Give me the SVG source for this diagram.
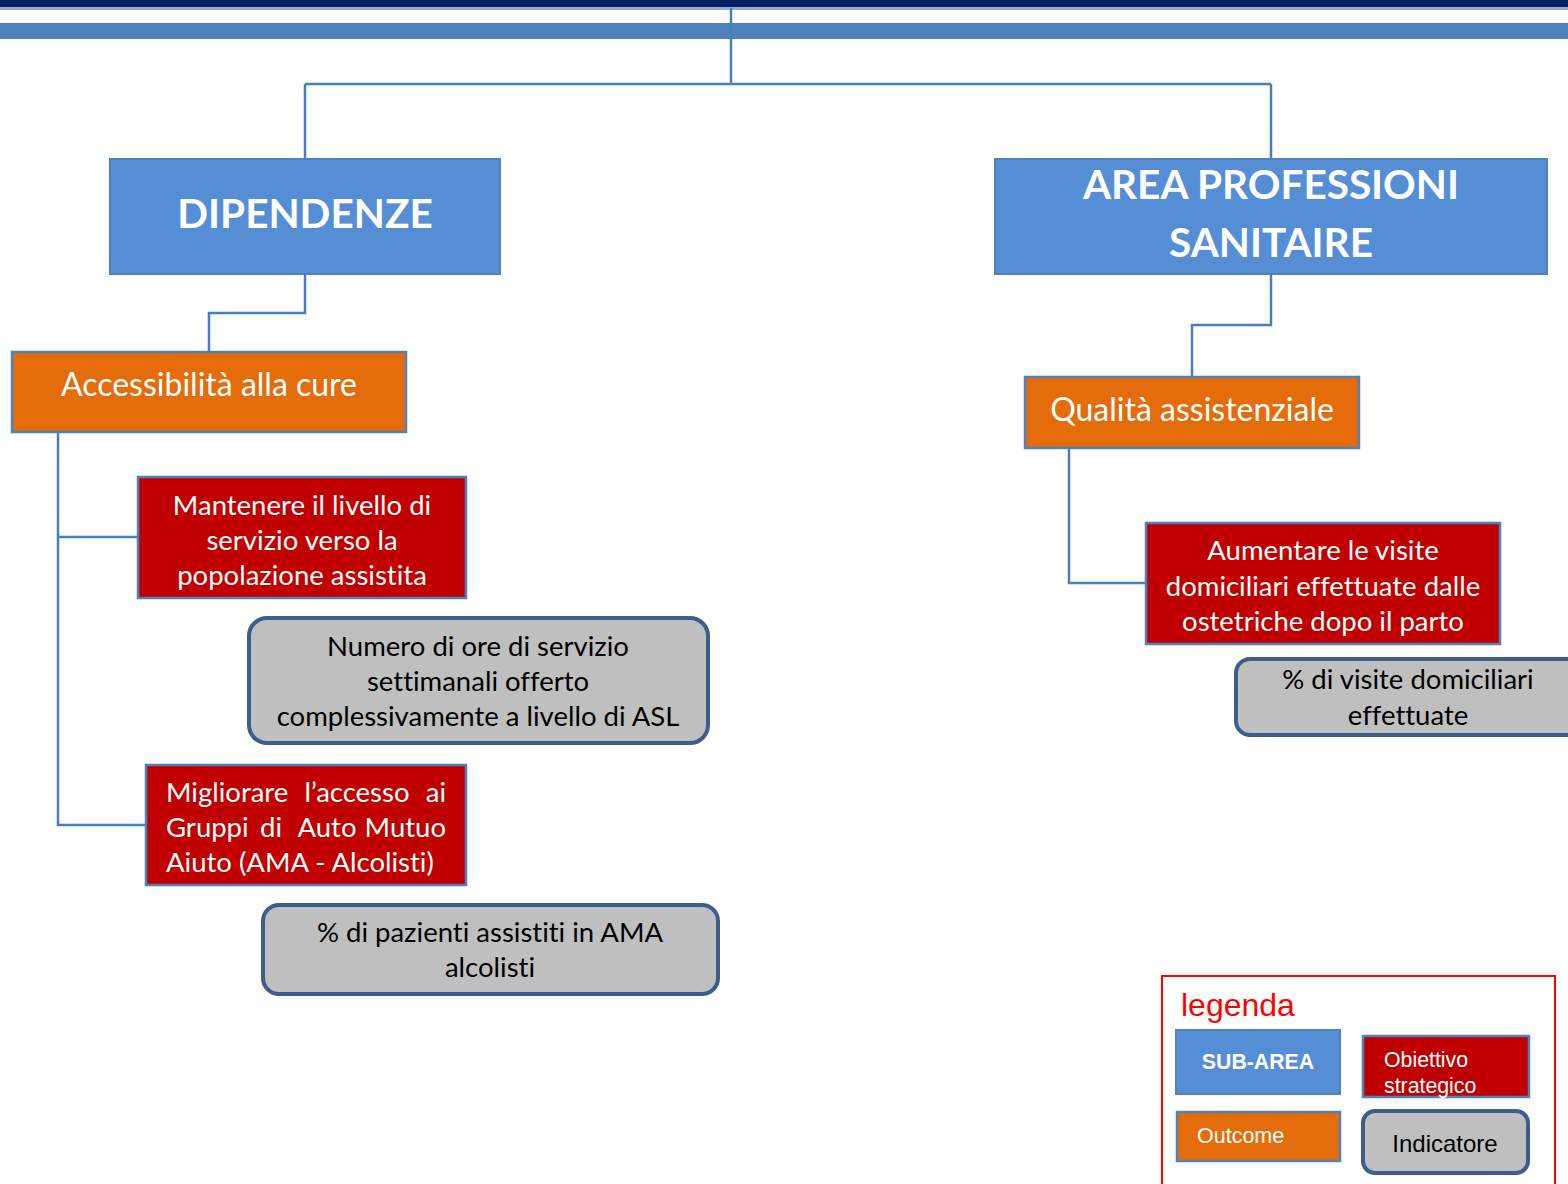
<svg xmlns="http://www.w3.org/2000/svg" width="1568" height="1184" viewBox="0 0 1568 1184">
  <style>
    .area { fill: #558ED5; stroke: #4F81BD; stroke-width: 2; }
    .out { fill: #E46C0A; stroke: #4F81BD; stroke-width: 2.5; }
    .obj { fill: #C00000; stroke: #4F81BD; stroke-width: 2.5; }
    .ind { fill: #BFBFBF; stroke: #3B5E8F; stroke-width: 4; }
    .conn { fill: none; stroke: #4A7EBB; stroke-width: 2.5; }
    .t { font-family: Lato, "Open Sans", sans-serif; font-variant-ligatures: none; }
    .head { font-family: Lato, "Open Sans", sans-serif; font-weight: bold; font-size: 40.5px; fill: #FFFFFF; text-anchor: middle; }
    .w { fill: #FFFFFF; }
    .k { fill: #000000; }
    .mid { text-anchor: middle; }
    .end { text-anchor: end; }
    .body { font-size: 27.5px; }
    .big { font-size: 32px; }
    .leg { font-family: "Liberation Sans", Arial, sans-serif; }
  </style>

  <!-- page header bands -->
  <rect x="0" y="0" width="1568" height="7" fill="#002060"/>
  <rect x="0" y="7" width="1568" height="3" fill="#8EA9DB"/>
  <rect x="0" y="23" width="1568" height="16" fill="#4F81BD"/>

  <!-- connectors -->
  <g id="connectors" class="conn">
    <path d="M731 8 V84 M305 84 H1271 M305 84 V159 M1271 84 V159"/>
    <path d="M305 274 V313 H209 V352"/>
    <path d="M58 432 V825 H146 M58 537 H138"/>
    <path d="M1271 274 V325 H1192 V377"/>
    <path d="M1069 448 V583 H1146"/>
  </g>

  <g id="dipendenze">
    <rect class="area" x="110" y="159" width="390" height="115"/>
    <text class="head" x="305" y="228">DIPENDENZE</text>
  </g>

  <g id="area-professioni">
    <rect class="area" x="995" y="159" width="552" height="115"/>
    <text class="head" x="1271" y="199">AREA PROFESSIONI</text>
    <text class="head" x="1271" y="257">SANITAIRE</text>
  </g>

  <g id="accessibilita">
    <rect class="out" x="12" y="352" width="394" height="80"/>
    <text class="t w mid big" x="209" y="396">Accessibilità alla cure</text>
  </g>

  <g id="qualita">
    <rect class="out" x="1025" y="377" width="334" height="71"/>
    <text class="t w mid big" x="1192" y="421">Qualità assistenziale</text>
  </g>

  <g id="mantenere">
    <rect class="obj" x="138" y="477" width="328" height="121"/>
    <text class="t w mid body" x="302" y="515">Mantenere il livello di</text>
    <text class="t w mid body" x="302" y="550">servizio verso la</text>
    <text class="t w mid body" x="302" y="585">popolazione assistita</text>
  </g>

  <g id="numero-ore">
    <rect class="ind" x="249" y="618" width="459" height="125" rx="18"/>
    <text class="t k mid body" x="478" y="656">Numero di ore di servizio</text>
    <text class="t k mid body" x="478" y="691">settimanali offerto</text>
    <text class="t k mid body" x="478" y="726">complessivamente a livello di ASL</text>
  </g>

  <!-- justified paragraph: words placed on a shared baseline -->
  <g id="migliorare">
    <rect class="obj" x="146" y="765" width="320" height="120"/>
    <text class="t w body" x="166" y="802">Migliorare</text>
    <text class="t w body mid" x="357" y="802">l’accesso</text>
    <text class="t w body end" x="446" y="802">ai</text>
    <text class="t w body" x="166" y="837">Gruppi</text>
    <text class="t w body mid" x="271" y="837">di</text>
    <text class="t w body mid" x="327" y="837">Auto</text>
    <text class="t w body end" x="446" y="837">Mutuo</text>
    <text class="t w body" x="166" y="872">Aiuto (AMA - Alcolisti)</text>
  </g>

  <g id="pazienti-ama">
    <rect class="ind" x="263" y="905" width="455" height="89" rx="16"/>
    <text class="t k mid body" x="490" y="942">% di pazienti assistiti in AMA</text>
    <text class="t k mid body" x="490" y="977">alcolisti</text>
  </g>

  <g id="aumentare">
    <rect class="obj" x="1146" y="523" width="354" height="121"/>
    <text class="t w mid body" x="1323" y="560">Aumentare le visite</text>
    <text class="t w mid body" x="1323" y="596">domiciliari effettuate dalle</text>
    <text class="t w mid body" x="1323" y="631">ostetriche dopo il parto</text>
  </g>

  <g id="visite-domiciliari">
    <rect class="ind" x="1236" y="659" width="345" height="76" rx="14"/>
    <text class="t k mid body" x="1408" y="689">% di visite domiciliari</text>
    <text class="t k mid body" x="1408" y="725">effettuate</text>
  </g>

  <g id="legenda">
    <rect x="1162" y="976" width="393" height="214" fill="none" stroke="#FF0000" stroke-width="2"/>
    <text class="leg" x="1181" y="1016" font-size="32" fill="#FF0000">legenda</text>
    <rect class="area" x="1176" y="1030" width="164" height="64"/>
    <text class="leg w mid" x="1258" y="1069" font-size="21.3" font-weight="bold">SUB-AREA</text>
    <rect class="obj" x="1363" y="1036" width="166" height="61"/>
    <text class="leg w" x="1384" y="1067" font-size="21.3">Obiettivo</text>
    <text class="leg w" x="1384" y="1093" font-size="21.3">strategico</text>
    <rect class="out" x="1177" y="1112" width="163" height="49"/>
    <text class="leg w" x="1197" y="1143" font-size="21.5">Outcome</text>
    <rect class="ind" x="1363" y="1111" width="165" height="62" rx="12"/>
    <text class="leg k mid" x="1445" y="1152" font-size="24">Indicatore</text>
  </g>
</svg>
